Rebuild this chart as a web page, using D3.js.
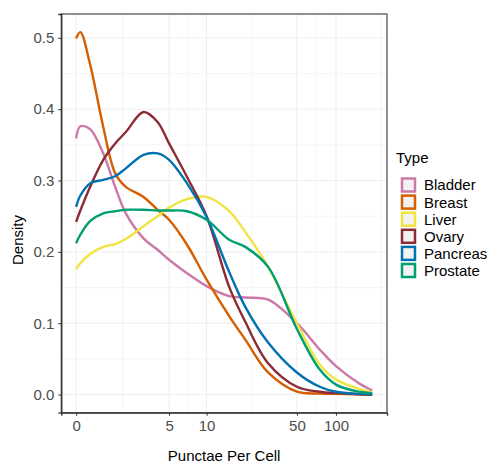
<!DOCTYPE html>
<html>
<head>
<meta charset="utf-8">
<script src="https://cdn.jsdelivr.net/npm/d3@7"></script>
<style>
body { margin: 0; background: #fff; }
text { font-family: "Liberation Sans", Arial, Helvetica, sans-serif; }
</style>
</head>
<body>
<div id="chart"></div>
<script>
const width = 492;
const height = 463;

// punctae per cell grid (shared by all series)
const punctae = [0, 0.15, 0.5, 1, 1.5, 2, 3, 4, 5, 7, 10, 15, 20, 30, 50, 75, 100, 150, 190];

const types = ['Bladder', 'Breast', 'Liver', 'Ovary', 'Pancreas', 'Prostate'];
const colors = ['#CC79A7', '#D55E00', '#F0E442', '#8B2B35', '#0072B2', '#009E73'];

const bladder  = [0.359, 0.376, 0.372, 0.338, 0.291, 0.254, 0.219, 0.203, 0.189, 0.170, 0.152, 0.138, 0.136, 0.133, 0.100, 0.063, 0.040, 0.016, 0.006];
const breast   = [0.499, 0.508, 0.463, 0.375, 0.310, 0.291, 0.277, 0.259, 0.245, 0.210, 0.161, 0.110, 0.077, 0.031, 0.004, 0.0015, 0.001, 0.0003, 0.0001];
const liver    = [0.176, 0.184, 0.197, 0.207, 0.211, 0.218, 0.236, 0.250, 0.262, 0.274, 0.277, 0.257, 0.228, 0.179, 0.100, 0.042, 0.021, 0.008, 0.003];
const ovary    = [0.242, 0.258, 0.291, 0.329, 0.352, 0.368, 0.396, 0.382, 0.352, 0.305, 0.250, 0.151, 0.102, 0.044, 0.011, 0.004, 0.002, 0.0005, 0.0002];
const pancreas = [0.263, 0.279, 0.296, 0.301, 0.306, 0.317, 0.336, 0.338, 0.329, 0.296, 0.249, 0.172, 0.123, 0.073, 0.031, 0.011, 0.004, 0.001, 0.0004];
const prostate = [0.212, 0.224, 0.243, 0.254, 0.257, 0.259, 0.259, 0.258, 0.258, 0.257, 0.245, 0.217, 0.207, 0.179, 0.092, 0.035, 0.014, 0.004, 0.002];

const seriesValues = [bladder, breast, liver, ovary, pancreas, prostate];

const xBreaks = [0, 5, 10, 50, 100];
const xBreaksHidden = [500]; // only used for the minor grid beyond 100
const yBreaks = [0, 0.1, 0.2, 0.3, 0.4, 0.5];

// pseudo log transform (sigma = 1)
const tr = v => Math.asinh(v / 2);

const panel = {left: 61.3, right: 387, top: 14, bottom: 412.7};

const uMax = tr(d3.max(punctae));
const xs = d3.scaleLinear()
	.domain([-0.05 * uMax, uMax * 1.05])
	.range([panel.left, panel.right]);
const x = v => xs(tr(v));

const yMax = d3.max(seriesValues, s => d3.max(s));
const y = d3.scaleLinear()
	.domain([-0.05 * yMax, yMax * 1.05])
	.range([panel.bottom, panel.top]);

const svg = d3.select('#chart')
	.append('svg')
	.attr('width', width)
	.attr('height', height);

// grid
const allX = xBreaks.concat(xBreaksHidden);
const minorX = [];
for (let i = 0; i < allX.length - 1; i++) {
	minorX.push((tr(allX[i]) + tr(allX[i + 1])) / 2);
}
const minorY = [];
for (let i = 0; i < yBreaks.length; i++) minorY.push(yBreaks[i] + 0.05);

svg.append('g').selectAll('line')
	.data(minorX.filter(u => xs(u) < panel.right))
	.enter().append('line')
	.attr('x1', u => xs(u)).attr('x2', u => xs(u))
	.attr('y1', panel.top).attr('y2', panel.bottom)
	.attr('stroke', '#f4f4f4').attr('stroke-width', 0.8);

svg.append('g').selectAll('line')
	.data(minorY.filter(v => y(v) > panel.top))
	.enter().append('line')
	.attr('x1', panel.left).attr('x2', panel.right)
	.attr('y1', d => y(d)).attr('y2', d => y(d))
	.attr('stroke', '#f4f4f4').attr('stroke-width', 0.8);

svg.append('g').selectAll('line')
	.data(xBreaks)
	.enter().append('line')
	.attr('x1', d => x(d)).attr('x2', d => x(d))
	.attr('y1', panel.top).attr('y2', panel.bottom)
	.attr('stroke', '#eeeeee').attr('stroke-width', 1);

svg.append('g').selectAll('line')
	.data(yBreaks)
	.enter().append('line')
	.attr('x1', panel.left).attr('x2', panel.right)
	.attr('y1', d => y(d)).attr('y2', d => y(d))
	.attr('stroke', '#eeeeee').attr('stroke-width', 1);

// density lines
const line = d3.line()
	.x((d, i) => x(punctae[i]))
	.y(d => y(d))
	.curve(d3.curveCatmullRom.alpha(0.5));

svg.append('g').selectAll('path')
	.data(seriesValues)
	.enter().append('path')
	.attr('d', d => line(d))
	.attr('fill', 'none')
	.attr('stroke', (d, i) => colors[i])
	.attr('stroke-width', 2.4);

// panel border
svg.append('rect')
	.attr('x', panel.left).attr('y', panel.top)
	.attr('width', panel.right - panel.left)
	.attr('height', panel.bottom - panel.top)
	.attr('fill', 'none')
	.attr('stroke', '#555').attr('stroke-width', 1.3);

// axes
const xAxis = svg.append('g')
	.attr('transform', 'translate(0,' + panel.bottom + ')')
	.call(d3.axisBottom(xs)
		.tickValues(xBreaks.map(tr))
		.tickFormat((d, i) => xBreaks[i])
		.tickSize(3).tickPadding(5));

const yAxis = svg.append('g')
	.attr('transform', 'translate(' + panel.left + ',0)')
	.call(d3.axisLeft(y)
		.tickValues(yBreaks)
		.tickFormat(d3.format('.1f'))
		.tickSize(3).tickPadding(4));

[xAxis, yAxis].forEach(a => {
	a.select('.domain').attr('stroke', '#333').attr('stroke-width', 1.3);
	a.selectAll('.tick line').attr('stroke', '#333');
	a.selectAll('.tick text')
		.attr('fill', '#4d4d4d')
		.style('font-size', '15px')
		.style('font-family', '"Liberation Sans", Arial, sans-serif');
});

// axis titles
svg.append('text')
	.attr('x', (panel.left + panel.right) / 2)
	.attr('y', 461)
	.attr('text-anchor', 'middle')
	.style('font-size', '15px')
	.text('Punctae Per Cell');

svg.append('text')
	.attr('transform', 'translate(22.5,240) rotate(-90)')
	.attr('text-anchor', 'middle')
	.style('font-size', '15px')
	.text('Density');

// legend
const legend = svg.append('g');
legend.append('text')
	.attr('x', 396).attr('y', 163)
	.style('font-size', '15px')
	.text('Type');

const rows = legend.selectAll('.row')
	.data(types)
	.enter().append('g')
	.attr('class', 'row')
	.attr('transform', (d, i) => 'translate(0,' + (185 + i * 17.1) + ')');

rows.append('rect')
	.attr('x', 402).attr('y', -6.5)
	.attr('width', 13).attr('height', 13)
	.attr('fill', '#f2f2f2')
	.attr('stroke', (d, i) => colors[i])
	.attr('stroke-width', 2.5);

rows.append('text')
	.attr('x', 424).attr('y', 0)
	.attr('dy', '0.36em')
	.style('font-size', '15px')
	.text(d => d);
</script>
</body>
</html>
